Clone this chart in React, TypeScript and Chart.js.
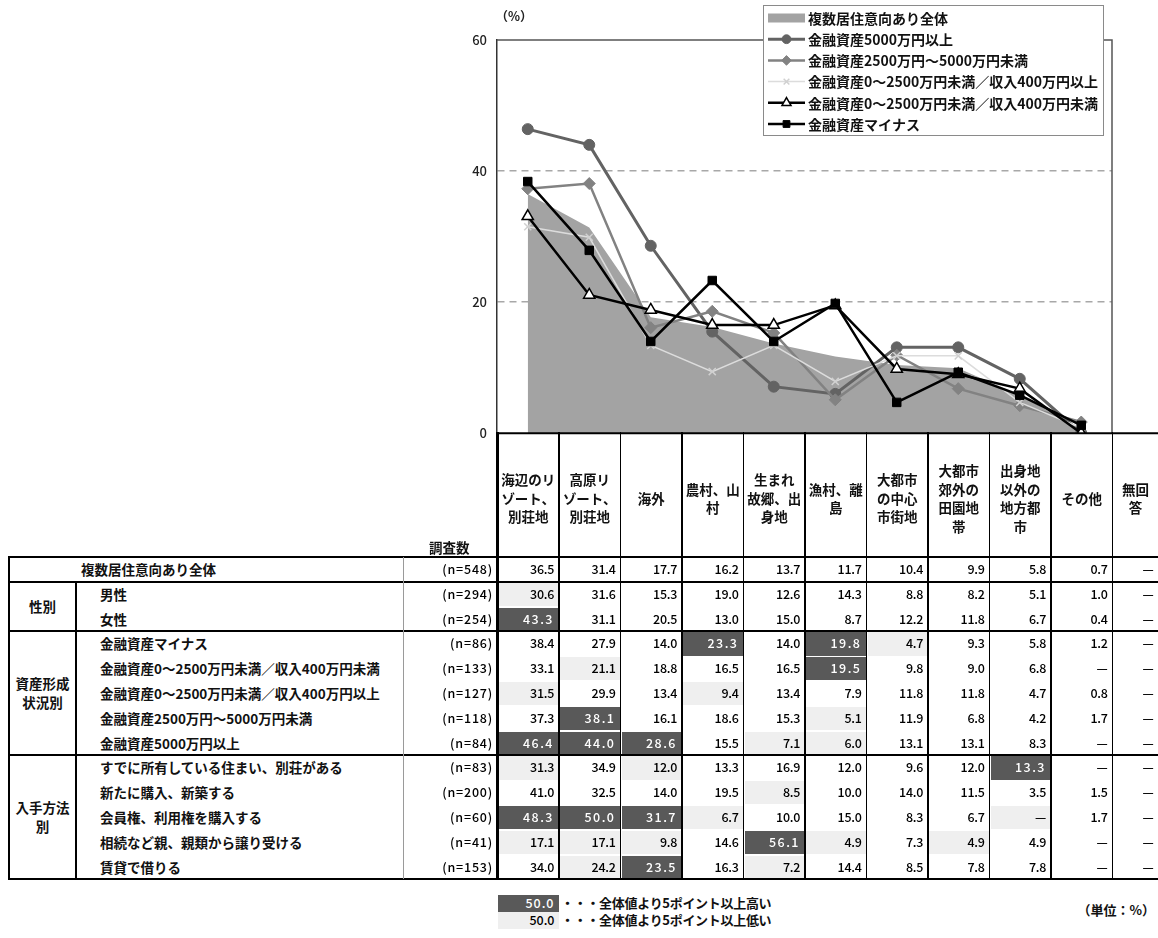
import React, { useEffect, useRef } from 'react';
import { Chart, registerables } from 'chart.js';
import { drawPoint } from 'chart.js/helpers';

Chart.register(...registerables);

const JP = '"Noto Sans CJK JP", "Noto Sans", sans-serif';

// ---------------- data ----------------
const categories = [
  '海辺のリゾート、別荘地', '高原リゾート、別荘地', '海外', '農村、山村', '生まれ故郷、出身地',
  '漁村、離島', '大都市の中心市街地', '大都市郊外の田園地帯', '出身地以外の地方都市', 'その他', '無回答',
];
const headerLabels = [
  '海辺のリ\nゾート、\n別荘地', '高原リ\nゾート、\n別荘地', '海外', '農村、山\n村', '生まれ\n故郷、出\n身地',
  '漁村、離\n島', '大都市\nの中心\n市街地', '大都市\n郊外の\n田園地\n帯', '出身地\n以外の\n地方都\n市', 'その他', '無回\n答',
];
const yTicks = [0, 20, 40, 60];

const totalLabel = '複数居住意向あり全体';
const totalN = 548;
const totalValues = [36.5, 31.4, 17.7, 16.2, 13.7, 11.7, 10.4, 9.9, 5.8, 0.7, null];

const genderGroup = '性別';
const genderLabels = ['男性', '女性'];
const genderN = [294, 254];
const maleValues = [30.6, 31.6, 15.3, 19.0, 12.6, 14.3, 8.8, 8.2, 5.1, 1.0, null];
const femaleValues = [43.3, 31.1, 20.5, 13.0, 15.0, 8.7, 12.2, 11.8, 6.7, 0.4, null];

const assetGroup = '資産形成\n状況別';
const assetLabels = [
  '金融資産マイナス',
  '金融資産0〜2500万円未満／収入400万円未満',
  '金融資産0〜2500万円未満／収入400万円以上',
  '金融資産2500万円〜5000万円未満',
  '金融資産5000万円以上',
];
const assetN = [86, 133, 127, 118, 84];
const minusValues = [38.4, 27.9, 14.0, 23.3, 14.0, 19.8, 4.7, 9.3, 5.8, 1.2, null];
const lowLowValues = [33.1, 21.1, 18.8, 16.5, 16.5, 19.5, 9.8, 9.0, 6.8, null, null];
const lowHighValues = [31.5, 29.9, 13.4, 9.4, 13.4, 7.9, 11.8, 11.8, 4.7, 0.8, null];
const midValues = [37.3, 38.1, 16.1, 18.6, 15.3, 5.1, 11.9, 6.8, 4.2, 1.7, null];
const highValues = [46.4, 44.0, 28.6, 15.5, 7.1, 6.0, 13.1, 13.1, 8.3, null, null];

const methodGroup = '入手方法\n別';
const methodLabels = [
  'すでに所有している住まい、別荘がある',
  '新たに購入、新築する',
  '会員権、利用権を購入する',
  '相続など親、親類から譲り受ける',
  '賃貸で借りる',
];
const methodN = [83, 200, 60, 41, 153];
const ownValues = [31.3, 34.9, 12.0, 13.3, 16.9, 12.0, 9.6, 12.0, 13.3, null, null];
const buyValues = [41.0, 32.5, 14.0, 19.5, 8.5, 10.0, 14.0, 11.5, 3.5, 1.5, null];
const memberValues = [48.3, 50.0, 31.7, 6.7, 10.0, 15.0, 8.3, 6.7, null, 1.7, null];
const inheritValues = [17.1, 17.1, 9.8, 14.6, 56.1, 4.9, 7.3, 4.9, 4.9, null, null];
const rentValues = [34.0, 24.2, 23.5, 16.3, 7.2, 14.4, 8.5, 7.8, 7.8, null, null];

const noteHigh = '・・・全体値より5ポイント以上高い';
const noteLow = '・・・全体値より5ポイント以上低い';
const unitNote = '（単位：%）';
const yUnit = '（%）';
const nHeader = '調査数';

// ---------------- layout ----------------
const COL0 = 497.5;
const COLW = 61.5;
const LASTW = 46;
const HEAD_TOP = 432;
const BODY_TOP = 557;
const ROW_H = 24.8;
const DARK = '#595959';
const LIGHT = '#efefef';
const CANVAS_H = 451;

const colX = (i: number) => COL0 + i * COLW;
const colW = (i: number) => (i === 10 ? LASTW : COLW);

const toPlot = (arr: (number | null)[]) => arr.slice(0, 10).map((v) => (v == null ? 0 : v));

type Row = { label: string; n: number; values: (number | null)[]; total?: boolean };
const rows: Row[] = [
  { label: totalLabel, n: totalN, values: totalValues, total: true },
  { label: genderLabels[0], n: genderN[0], values: maleValues },
  { label: genderLabels[1], n: genderN[1], values: femaleValues },
  { label: assetLabels[0], n: assetN[0], values: minusValues },
  { label: assetLabels[1], n: assetN[1], values: lowLowValues },
  { label: assetLabels[2], n: assetN[2], values: lowHighValues },
  { label: assetLabels[3], n: assetN[3], values: midValues },
  { label: assetLabels[4], n: assetN[4], values: highValues },
  { label: methodLabels[0], n: methodN[0], values: ownValues },
  { label: methodLabels[1], n: methodN[1], values: buyValues },
  { label: methodLabels[2], n: methodN[2], values: memberValues },
  { label: methodLabels[3], n: methodN[3], values: inheritValues },
  { label: methodLabels[4], n: methodN[4], values: rentValues },
];
const groups = [
  { name: genderGroup, start: 1, count: 2 },
  { name: assetGroup, start: 3, count: 5 },
  { name: methodGroup, start: 8, count: 5 },
];

function shade(row: Row, j: number): 'dark' | 'light' | null {
  if (row.total) return null;
  const t = totalValues[j];
  if (t == null) return null;
  const v = row.values[j] == null ? 0 : (row.values[j] as number);
  const d = Math.round((v - t) * 10);
  if (d >= 50) return 'dark';
  if (d <= -50) return 'light';
  return null;
}

// ---------------- chart plugins ----------------
const framePlugin = {
  id: 'frame',
  beforeDatasetsDraw(chart: any) {
    const { ctx, chartArea } = chart;
    const { left, right, top, bottom } = chartArea;
    ctx.save();
    ctx.strokeStyle = '#555';
    ctx.lineWidth = 1.5;
    ctx.beginPath();
    ctx.moveTo(left, top);
    ctx.lineTo(right, top);
    ctx.lineTo(right, bottom);
    ctx.stroke();
    ctx.restore();
  },
  afterDraw(chart: any) {
    const { ctx, chartArea } = chart;
    ctx.save();
    ctx.strokeStyle = '#000';
    ctx.lineWidth = 2;
    ctx.beginPath();
    ctx.moveTo(chartArea.left, chartArea.bottom);
    ctx.lineTo(chart.width, chartArea.bottom);
    ctx.stroke();
    ctx.fillStyle = '#222';
    ctx.font = `bold 12.5px ${JP}`;
    ctx.textAlign = 'center';
    ctx.textBaseline = 'middle';
    ctx.fillText(yUnit, 514, 16);
    ctx.restore();
  },
};

const legendPlugin = {
  id: 'customLegend',
  afterDraw(chart: any) {
    const { ctx } = chart;
    ctx.save();
    const bx = 763.5, by = 5.5, bw = 340, bh = 130;
    ctx.fillStyle = '#fff';
    ctx.fillRect(bx, by, bw, bh);
    ctx.strokeStyle = '#8a8a8a';
    ctx.lineWidth = 1;
    ctx.strokeRect(bx, by, bw, bh);
    chart.data.datasets.forEach((ds: any, i: number) => {
      const y = 18 + i * 21.2;
      if (i === 0) {
        ctx.fillStyle = ds.backgroundColor;
        ctx.fillRect(768, y - 4.5, 37, 9);
      } else {
        ctx.strokeStyle = ds.borderColor;
        ctx.lineWidth = ds.borderWidth;
        ctx.beginPath();
        ctx.moveTo(768, y);
        ctx.lineTo(805, y);
        ctx.stroke();
        ctx.fillStyle = ds.pointBackgroundColor || '#fff';
        ctx.strokeStyle = ds.pointBorderColor;
        ctx.lineWidth = ds.pointBorderWidth;
        drawPoint(ctx, { pointStyle: ds.pointStyle, radius: ds.pointRadius * 0.8, borderWidth: ds.pointBorderWidth, rotation: 0 } as any, 786.5, y);
      }
      ctx.fillStyle = '#111';
      ctx.font = `bold 14px ${JP}`;
      ctx.textAlign = 'left';
      ctx.textBaseline = 'middle';
      ctx.fillText(ds.label, 808, y + 0.5);
    });
    ctx.restore();
  },
};

// ---------------- components ----------------
function HLine({ y, x1, x2, t, c = '#000' }: any) {
  return <div style={{ position: 'absolute', left: x1, top: y - t / 2, width: x2 - x1, height: t, background: c }} />;
}
function VLine({ x, y1, y2, t, c = '#000' }: any) {
  return <div style={{ position: 'absolute', left: x - t / 2, top: y1, width: t, height: y2 - y1, background: c }} />;
}

export default function App() {
  const canvasRef = useRef<HTMLCanvasElement | null>(null);

  useEffect(() => {
    const canvas = canvasRef.current;
    if (!canvas) return;
    const chart = new Chart(canvas, {
      type: 'line',
      data: {
        labels: categories.slice(0, 10),
        datasets: [
          {
            label: totalLabel, data: toPlot(totalValues), fill: 'origin', backgroundColor: '#a3a3a3',
            borderColor: 'rgba(0,0,0,0)', borderWidth: 0, pointRadius: 0, order: 10,
          },
          {
            label: assetLabels[4], data: toPlot(highValues), borderColor: '#636363', borderWidth: 3,
            pointStyle: 'circle', pointRadius: 5.5, pointBackgroundColor: '#636363', pointBorderColor: '#636363', pointBorderWidth: 1, order: 5,
          },
          {
            label: assetLabels[3], data: toPlot(midValues), borderColor: '#828282', borderWidth: 2.5,
            pointStyle: 'rectRot', pointRadius: 6, pointBackgroundColor: '#828282', pointBorderColor: '#828282', pointBorderWidth: 1, order: 4,
          },
          {
            label: assetLabels[2], data: toPlot(lowHighValues), borderColor: '#dcdcdc', borderWidth: 1.5,
            pointStyle: 'crossRot', pointRadius: 5, pointBackgroundColor: '#dcdcdc', pointBorderColor: '#d0d0d0', pointBorderWidth: 1.5, order: 3,
          },
          {
            label: assetLabels[1], data: toPlot(lowLowValues), borderColor: '#000', borderWidth: 2.5,
            pointStyle: 'triangle', pointRadius: 6.5, pointBackgroundColor: '#fff', pointBorderColor: '#000', pointBorderWidth: 1.5, order: 2,
          },
          {
            label: assetLabels[0], data: toPlot(minusValues), borderColor: '#000', borderWidth: 2.5,
            pointStyle: 'rect', pointRadius: 6, pointBackgroundColor: '#000', pointBorderColor: '#000', pointBorderWidth: 1, order: 1,
          },
        ] as any,
      },
      options: {
        animation: false,
        responsive: false,
        devicePixelRatio: 1,
        layout: { padding: { left: 457, right: 46, top: 40, bottom: 8 } },
        elements: { line: { tension: 0 } },
        plugins: { legend: { display: false }, tooltip: { enabled: false } },
        scales: {
          x: { type: 'category', display: false, offset: true },
          y: {
            min: 0, max: 60,
            afterFit: (scale: any) => { scale.width = 40; },
            afterBuildTicks: (scale: any) => { scale.ticks = yTicks.map((v) => ({ value: v })); },
            ticks: { padding: 10, color: '#222', font: { family: JP, size: 13, weight: '500' } },
            grid: {
              drawTicks: false,
              lineWidth: 1.5,
              color: (c: any) => (c.tick && (c.tick.value === 20 || c.tick.value === 40) ? '#a8a8a8' : 'rgba(0,0,0,0)'),
            },
            border: { display: true, color: '#333', width: 1.5, dash: [7, 5] },
          },
        },
      } as any,
      plugins: [framePlugin, legendPlugin],
    });
    return () => chart.destroy();
  }, []);

  const labelFont: React.CSSProperties = { fontFamily: JP, fontWeight: 700, fontSize: 13.5, color: '#111' };
  const numFont: React.CSSProperties = { fontFamily: JP, fontWeight: 500, fontSize: 12.5, color: '#000' };
  const bodyBottom = BODY_TOP + rows.length * ROW_H;

  return (
    <div style={{ position: 'absolute', left: 0, top: 0, width: 1158, height: 938, overflow: 'hidden', background: '#fff' }}>
      <canvas ref={canvasRef} width={1158} height={CANVAS_H} style={{ position: 'absolute', left: 0, top: 0, width: 1158, height: CANVAS_H }} />

      {/* header labels */}
      {headerLabels.map((h, i) => (
        <div key={'h' + i} style={{
          ...labelFont, position: 'absolute', left: colX(i), top: HEAD_TOP + 2, width: colW(i), height: BODY_TOP - HEAD_TOP - 2,
          display: 'flex', alignItems: 'center', justifyContent: 'center', textAlign: 'center', whiteSpace: 'pre-line',
          lineHeight: '18.5px', paddingTop: 5, boxSizing: 'border-box',
        }}>{h}</div>
      ))}
      <div style={{ ...labelFont, position: 'absolute', left: 429, top: 538, lineHeight: '18px' }}>{nHeader}</div>

      {/* cell backgrounds */}
      {rows.map((r, ri) => r.values.map((v, j) => {
        const s = shade(r, j);
        if (!s) return null;
        return <div key={`bg${ri}-${j}`} style={{ position: 'absolute', left: colX(j) + 1, top: BODY_TOP + ri * ROW_H + 1, width: colW(j) - 2, height: ROW_H - 1.5, background: s === 'dark' ? DARK : LIGHT }} />;
      }))}

      {/* row labels, n, values */}
      {rows.map((r, ri) => {
        const top = BODY_TOP + ri * ROW_H;
        return (
          <React.Fragment key={'r' + ri}>
            <div style={{ ...labelFont, position: 'absolute', left: r.total ? 81 : 100, top, height: ROW_H, lineHeight: ROW_H + 'px', whiteSpace: 'nowrap' }}>{r.label}</div>
            <div style={{ ...numFont, position: 'absolute', left: 403, width: 90, top, height: ROW_H, lineHeight: ROW_H + 'px', textAlign: 'right', letterSpacing: '0.8px' }}>{`(n=${r.n})`}</div>
            {r.values.map((v, j) => {
              const s = shade(r, j);
              return (
                <div key={`v${ri}-${j}`} style={{
                  ...numFont, position: 'absolute', left: colX(j), width: colW(j) - 5, top, height: ROW_H, lineHeight: ROW_H + 'px',
                  textAlign: 'right', color: s === 'dark' ? '#fff' : '#000', letterSpacing: s === 'dark' ? '1.5px' : '-0.3px',
                }}>{v == null ? '—' : v.toFixed(1)}</div>
              );
            })}
          </React.Fragment>
        );
      })}

      {/* group labels */}
      {groups.map((g, gi) => (
        <div key={'g' + gi} style={{
          ...labelFont, position: 'absolute', left: 9, width: 67, top: BODY_TOP + g.start * ROW_H, height: g.count * ROW_H,
          display: 'flex', alignItems: 'center', justifyContent: 'center', textAlign: 'center', whiteSpace: 'pre-line', lineHeight: '19px',
        }}>{g.name}</div>
      ))}

      {/* grid lines */}
      <HLine y={BODY_TOP} x1={9} x2={1158} t={2} />
      <HLine y={BODY_TOP + ROW_H} x1={9} x2={1158} t={2.5} />
      <HLine y={BODY_TOP + 3 * ROW_H} x1={9} x2={1158} t={2} />
      <HLine y={BODY_TOP + 8 * ROW_H} x1={9} x2={1158} t={2} />
      <HLine y={bodyBottom} x1={9} x2={1158} t={2} />
      <VLine x={9} y1={BODY_TOP - 1} y2={bodyBottom + 1} t={2} />
      <VLine x={76} y1={BODY_TOP + ROW_H} y2={bodyBottom} t={1.5} />
      <VLine x={403} y1={BODY_TOP} y2={bodyBottom} t={1} c="#9a9a9a" />
      <VLine x={COL0} y1={HEAD_TOP} y2={bodyBottom} t={2.5} />
      {Array.from({ length: 10 }, (_, i) => (
        <VLine key={'vl' + i} x={colX(i + 1)} y1={HEAD_TOP} y2={bodyBottom} t={1.5} />
      ))}

      {/* notes */}
      <div style={{ ...numFont, position: 'absolute', left: 497.5, top: 895, width: 61, height: 16.5, lineHeight: '16.5px', background: DARK, color: '#fff', textAlign: 'right', boxSizing: 'border-box', paddingRight: 4, letterSpacing: '1px' }}>50.0</div>
      <div style={{ ...numFont, position: 'absolute', left: 497.5, top: 912, width: 61, height: 16.5, lineHeight: '16.5px', background: LIGHT, color: '#000', textAlign: 'right', boxSizing: 'border-box', paddingRight: 4 }}>50.0</div>
      <div style={{ ...labelFont, fontSize: 13, position: 'absolute', left: 561, top: 895, lineHeight: '16.5px', letterSpacing: '-0.3px' }}>{noteHigh}</div>
      <div style={{ ...labelFont, fontSize: 13, position: 'absolute', left: 561, top: 912, lineHeight: '16.5px', letterSpacing: '-0.3px' }}>{noteLow}</div>
      <div style={{ ...labelFont, fontSize: 13, position: 'absolute', right: 3, top: 902, lineHeight: '16.5px' }}>{unitNote}</div>
    </div>
  );
}
